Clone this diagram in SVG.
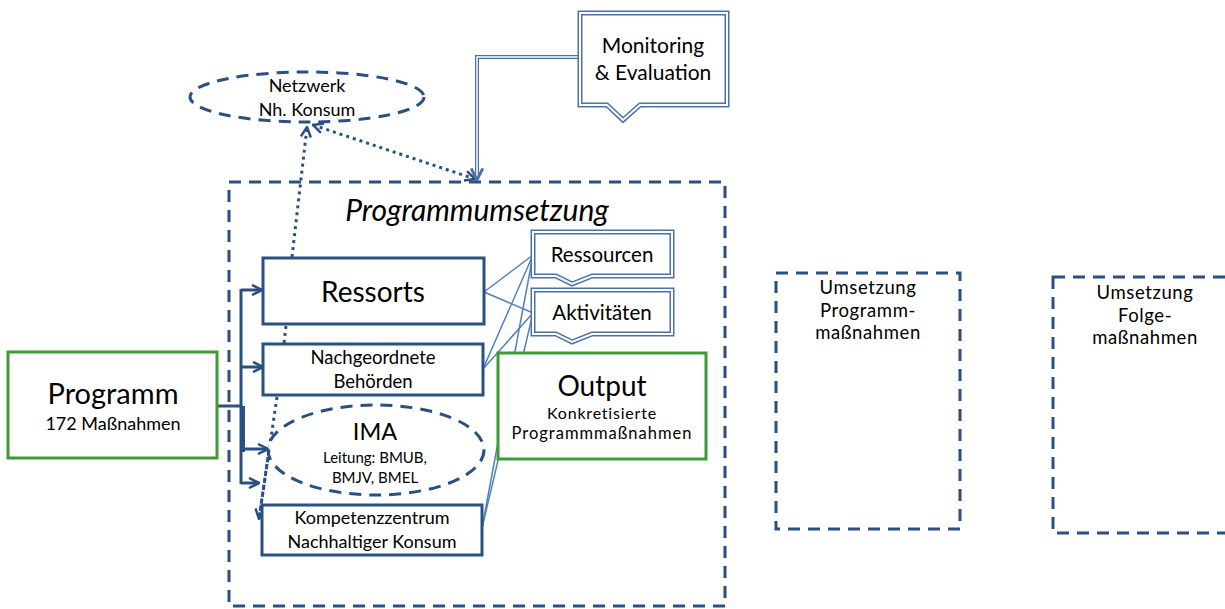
<svg xmlns="http://www.w3.org/2000/svg" width="1225" height="609" viewBox="0 0 1225 609">
<style>
text{font-family:Lato,"Noto Sans","Liberation Sans",sans-serif;fill:#000;text-anchor:middle}
.box{fill:#fff;stroke:#2A5082;stroke-width:3}
.green{fill:#fff;stroke:#3C9B35;stroke-width:3}
.dash{fill:none;stroke:#2A5082;stroke-width:3;stroke-dasharray:12 8}
.dot{fill:none;stroke:#2A5082;stroke-width:3;stroke-dasharray:3 4}
.thin{fill:none;stroke:#4F81BD;stroke-width:1.5}
.bus{fill:none;stroke:#2A5082;stroke-width:3}
.callo{fill:#fff;stroke:#4A72A8;stroke-width:5}
.calli{fill:none;stroke:#fff;stroke-width:2}
.ums{font-size:18.5px;letter-spacing:0.6px}
</style>
<defs>
<marker id="ah" viewBox="0 0 12 12" refX="11" refY="6" markerWidth="12" markerHeight="12" markerUnits="userSpaceOnUse" orient="auto">
<path d="M1,1 L11,6 L1,11" fill="none" stroke="#2A5082" stroke-width="2.5"/>
</marker>
<marker id="ahs" viewBox="0 0 12 12" refX="1" refY="6" markerWidth="12" markerHeight="12" markerUnits="userSpaceOnUse" orient="auto">
<path d="M11,1 L1,6 L11,11" fill="none" stroke="#2A5082" stroke-width="2.5"/>
</marker>
<marker id="ahm" viewBox="0 0 12 12" refX="11" refY="6" markerWidth="14" markerHeight="14" markerUnits="userSpaceOnUse" orient="auto">
<path d="M1,1 L11,6 L1,11" fill="none" stroke="#4A72A8" stroke-width="2.5"/>
</marker>
</defs>

<g id="programmumsetzung">
<rect class="dash" x="229" y="182" width="496" height="424"/>
<text x="477" y="221" font-size="30" font-style="italic">Programmumsetzung</text>
</g>

<g id="connectors">
<line class="thin" x1="484" y1="292" x2="533" y2="255"/>
<line class="thin" x1="484" y1="292" x2="533" y2="313"/>
<line class="thin" x1="483" y1="369" x2="533" y2="255"/>
<line class="thin" x1="483" y1="369" x2="533" y2="313"/>
<line class="thin" x1="482" y1="528" x2="533" y2="255"/>
<line class="thin" x1="482" y1="528" x2="533" y2="313"/>
<path class="bus" d="M217,406 H241"/>
<path class="bus" d="M241,289 V484"/>
<rect x="240" y="406" width="5" height="46" fill="#2A5082"/>
<path class="bus" d="M241,290 H262" marker-end="url(#ah)"/>
<path class="bus" d="M241,367 H263" marker-end="url(#ah)"/>
<path class="bus" d="M244,449 H268" marker-end="url(#ah)"/>
<path class="bus" d="M241,483 H259" marker-end="url(#ah)"/>
<path class="dot" d="M292,257 L307,127" marker-end="url(#ah)"/>
<path class="dot" d="M313,125 L475,179" marker-start="url(#ahs)" marker-end="url(#ah)"/>
<path class="dot" d="M286,326 L284,343"/>
<path class="dot" d="M277,397 L259,519" marker-end="url(#ah)"/>
<path d="M580,57 H477 V176" fill="none" stroke="#4A72A8" stroke-width="4"/>
<path d="M580,57 H477 V176" fill="none" stroke="#fff" stroke-width="1.5"/>
<path d="M477,170 V180" fill="none" stroke="none" marker-end="url(#ahm)"/>
</g>

<g id="netzwerk">
<ellipse cx="307" cy="97" rx="117" ry="25" fill="#fff" stroke="#2A5082" stroke-width="3" stroke-dasharray="12 8"/>
<text x="307" y="92" font-size="18">Netzwerk</text>
<text x="307" y="116" font-size="18">Nh. Konsum</text>
</g>

<g id="monitoring">
<path class="callo" d="M580,13 H727 V105 H640 L623,120 L607,105 H580 Z"/>
<path class="calli" d="M580,13 H727 V105 H640 L623,120 L607,105 H580 Z"/>
<text x="653" y="53" font-size="21">Monitoring</text>
<text x="653" y="80" font-size="21">&amp; Evaluation</text>
</g>

<g id="programm">
<rect class="green" x="8" y="352" width="209" height="106"/>
<text x="113" y="404" font-size="29">Programm</text>
<text x="113" y="430" font-size="18">172 Maßnahmen</text>
</g>

<g id="ressorts">
<rect class="box" x="263" y="258" width="221" height="66"/>
<text x="373" y="302" font-size="28">Ressorts</text>
</g>

<g id="nachgeordnete">
<rect class="box" x="263" y="344" width="220" height="51"/>
<text x="373" y="364" font-size="18.5">Nachgeordnete</text>
<text x="373" y="388" font-size="18.5">Behörden</text>
</g>

<g id="ima">
<ellipse cx="376" cy="450" rx="108" ry="45" fill="#fff" stroke="#2A5082" stroke-width="3" stroke-dasharray="12 8"/>
<text x="375" y="440" font-size="23.5">IMA</text>
<text x="375" y="463" font-size="15">Leitung: BMUB,</text>
<text x="375" y="483" font-size="15">BMJV, BMEL</text>
</g>

<g id="kompetenzzentrum">
<rect class="box" x="262" y="505" width="220" height="50"/>
<text x="372" y="524" font-size="18">Kompetenzzentrum</text>
<text x="372" y="548" font-size="18">Nachhaltiger Konsum</text>
</g>

<g id="dotfix">
<path class="dot" d="M269,450 L259,519"/>
</g>

<g id="ressourcen">
<path class="callo" d="M533,232 H672 V276 H592 L572,284 L556,276 H533 Z" stroke-width="4"/>
<path class="calli" d="M533,232 H672 V276 H592 L572,284 L556,276 H533 Z" stroke-width="1.5"/>
<text x="602" y="262" font-size="20.5">Ressourcen</text>
</g>

<g id="aktivitaeten">
<path class="callo" d="M533,290 H672 V334 H592 L572,342 L556,334 H533 Z" stroke-width="4"/>
<path class="calli" d="M533,290 H672 V334 H592 L572,342 L556,334 H533 Z" stroke-width="1.5"/>
<text x="602" y="320" font-size="20.5">Aktivitäten</text>
</g>

<g id="output">
<rect class="green" x="498" y="353" width="208" height="106"/>
<text x="602" y="396" font-size="28">Output</text>
<text x="602" y="419" font-size="16" letter-spacing="0.8">Konkretisierte</text>
<text x="602" y="439" font-size="16.5" letter-spacing="1">Programmmaßnahmen</text>
</g>

<g id="umsetzung-programm">
<rect class="dash" x="776" y="273" width="184" height="256"/>
<text class="ums" x="868" y="294">Umsetzung</text>
<text class="ums" x="868" y="316.5">Programm-</text>
<text class="ums" x="868" y="339">maßnahmen</text>
</g>

<g id="umsetzung-folge">
<rect class="dash" x="1053" y="277" width="190" height="256"/>
<text class="ums" x="1145" y="299">Umsetzung</text>
<text class="ums" x="1145" y="321.5">Folge-</text>
<text class="ums" x="1145" y="344">maßnahmen</text>
</g>
</svg>
